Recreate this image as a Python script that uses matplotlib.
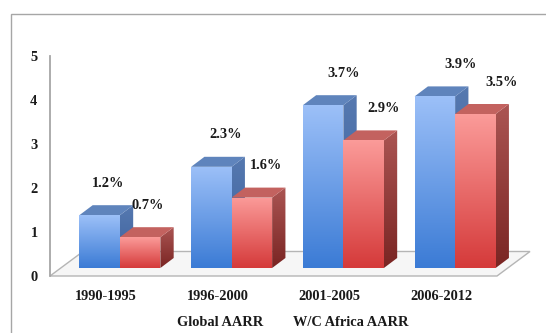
import numpy as np
import matplotlib.pyplot as plt
from matplotlib.patches import Polygon
from matplotlib.colors import to_rgb

periods = ["1990-1995", "1996-2000", "2001-2005", "2006-2012"]
global_aarr = [1.2, 2.3, 3.7, 3.9]
wc_africa_aarr = [0.7, 1.6, 2.9, 3.5]
series_names = ["Global AARR", "W/C Africa AARR"]
y_ticks = [0, 1, 2, 3, 4, 5]

# pixel scale of the plot (category slot width, px per value unit)
SLOT = 111.75
UNIT = 44.0
W, H = 546, 333

bar_w = 40.5 / SLOT
bar_x0 = -26.5 / SLOT          # left edge of first bar relative to category
base = 8.0 / UNIT              # bars sit a little behind the floor edge
dx, dy = 13.3 / SLOT, 10.0 / UNIT   # depth of the boxes

FONT = dict(family="Liberation Serif", weight="bold", size=10.4, color="#1a1a1a")

fig = plt.figure(figsize=(W / 100, H / 100), dpi=100)
ax = fig.add_axes([0, 0, 1, 1])
ax.set_facecolor("none")
xlo = -0.5 - 50 / SLOT
ylo = -57 / UNIT
xlim = (xlo, xlo + W / SLOT)
ylim = (ylo, ylo + H / UNIT)

# outer frame (top and left border)
fig.add_artist(plt.Rectangle((11 / W, -0.1), 1.2, 1 - 14 / H + 0.1,
                             transform=fig.transFigure, fill=False,
                             edgecolor="#a6a6a6", lw=1.0))

# floor
fl_dx, fl_dy = 33 / SLOT, 24.5 / UNIT
floor = Polygon([(-0.5, 0), (3.5, 0), (3.5 + fl_dx, fl_dy), (-0.5 + fl_dx, fl_dy)],
                closed=True, facecolor="#f6f6f6", edgecolor="#b5b5b5", lw=1.0, zorder=1)
ax.add_patch(floor)


def gradient(poly, c_top, c_bot, x0, x1, y0, y1, z):
    t = np.linspace(0, 1, 128)[:, None]
    a, b = np.array(to_rgb(c_bot)), np.array(to_rgb(c_top))
    img = (a + (b - a) * t)[:, None, :].repeat(2, axis=1)
    im = ax.imshow(img, extent=[x0, x1, y0, y1], origin="lower",
                   aspect="auto", interpolation="bilinear", zorder=z)
    ax.add_patch(poly)
    poly.set_visible(False)
    im.set_clip_path(poly)


def box(x0, val, front, side, top_c, z):
    x1 = x0 + bar_w
    y0, y1 = base, base + val
    side_poly = Polygon([(x1, y0), (x1 + dx, y0 + dy), (x1 + dx, y1 + dy), (x1, y1)])
    gradient(side_poly, side[0], side[1], x1, x1 + dx, y0, y1 + dy, z)
    ax.add_patch(Polygon([(x0, y1), (x0 + dx, y1 + dy), (x1 + dx, y1 + dy), (x1, y1)],
                         facecolor=top_c, edgecolor="none", zorder=z))
    front_poly = Polygon([(x0, y0), (x1, y0), (x1, y1), (x0, y1)])
    gradient(front_poly, front[0], front[1], x0, x1, y0, y1, z + 0.1)


blue_front = ("#9cc0f8", "#3b7bd5")
blue_side = ("#5679b0", "#3a5f9c")
red_front = ("#fb9b99", "#d53a3a")
red_side = ("#ab5553", "#7a2523")

for i in range(len(periods)):
    xb = i + bar_x0
    xr = xb + bar_w
    box(xb, global_aarr[i], blue_front, blue_side, "#5f84bc", 2 + i)
    box(xr, wc_africa_aarr[i], red_front, red_side, "#c3625f", 2.5 + i)
    shift = (8 + 6 * i) / SLOT
    for x, v in ((xb, global_aarr[i]), (xr, wc_africa_aarr[i])):
        ax.text(x + bar_w / 2 + shift, base + v + 32 / UNIT, f"{v}%",
                ha="center", va="center", zorder=10, **FONT)

# value axis
ax.spines["left"].set_position(("data", -0.5))
ax.spines["left"].set_bounds(0, 5)
ax.spines["left"].set_color("#a6a6a6")
ax.spines["left"].set_linewidth(1.3)
for s in ("top", "right", "bottom"):
    ax.spines[s].set_visible(False)
ax.set_yticks(y_ticks)
ax.set_yticklabels([str(t) for t in y_ticks], fontdict=FONT)
ax.tick_params(axis="y", length=0, pad=9)

# category axis
ax.spines["bottom"].set_position(("data", 0))
ax.set_xticks(range(len(periods)))
ax.set_xticklabels(periods, fontdict=FONT)
ax.tick_params(axis="x", length=0, pad=10)

fig.text(220 / W, 1 - 323 / H, series_names[0], ha="center", va="center", **FONT)
fig.text(351 / W, 1 - 323 / H, series_names[1], ha="center", va="center", **FONT)

ax.set_xlim(*xlim)
ax.set_ylim(*ylim)
fig.savefig("out.png", dpi=100)
